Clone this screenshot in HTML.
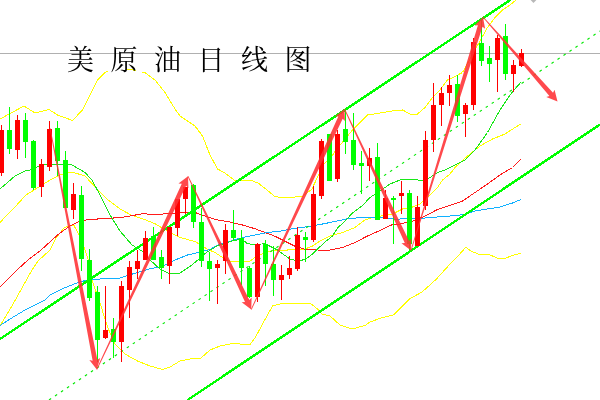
<!DOCTYPE html>
<html lang="zh-CN"><head><meta charset="utf-8"><title>美原油日线图</title>
<style>
html,body{margin:0;padding:0;background:#fff;}
body{width:600px;height:400px;overflow:hidden;position:relative;}
svg{position:absolute;left:0;top:0;display:block;}
.title{position:absolute;left:67px;top:46.5px;margin:0;font-family:"Liberation Serif","Noto Serif CJK SC",serif;font-weight:400;font-size:27px;line-height:1;letter-spacing:16.5px;color:#000;white-space:nowrap;transform:scaleY(1.04);transform-origin:0 0;}
.ln{shape-rendering:crispEdges;fill:none;stroke-width:1;stroke-linejoin:round;}
</style></head><body>
<svg width="600" height="400" viewBox="0 0 600 400">
<rect width="600" height="400" fill="#fff"/>
<rect x="0" y="53" width="600" height="1" fill="#b0b0b0" shape-rendering="crispEdges"/>
<polygon points="530.6,0 536.4,0 533.5,3.1" fill="#b8b8b8"/>
<polyline class="ln" stroke="#ffff00" points="0,119 24,106 35,113 49,109.5 57.5,115 72.5,120.5 82.5,110 90,95 97.5,80 105,72.5 107.5,71.3"/>
<polyline class="ln" stroke="#ffff00" points="127.5,69.2 130,69.5 136,70.5"/>
<polyline class="ln" stroke="#ffff00" points="142.5,72 145,72.5 155,80 165,92.5 175,109 180,116 187.5,121 195,126 202.5,136 210,155 217.5,169 225,173 234,180 250,180 258,183 266,189 274,196 280,197.4 292,197.4 303,196 312,189 318,176 324,164 332,156 336,150 352.5,130 360,122.5 367.5,115 380,113 392.5,111 402.5,110 410,114 417.5,114 425,107.5 432.5,97.5 440,90 447.5,80 450,79 462.5,72.5 475,50 487.5,27.5 495,17.5 502.5,10 510,5 516,0"/>
<polyline class="ln" stroke="#ffff00" points="0,222.4 14,208 26,195 34,190 50,180 60,175 72,172 85,176 98,190 108,200 115,205 120,209 132,215.5 142.5,218.75 155,223.75 167.5,231 180,237.5 195,241.5 207,249 215,252.5 222.5,257.5 230,261.25 240,262 250,261.25 255,257.5 262.5,253.75 275,250 287.5,250 305,249 312.5,246 320,241 330,236 342.5,232.5 355,227.5 365,220 372.5,217.5 392.5,214 402.5,209 410,208 420,204 427.5,197.5 437.5,187.5 442.5,180 450,174 455,167.5 467.5,156 480,146 492.5,139 505,134 515,127.5 521,124"/>
<polyline class="ln" stroke="#ffff00" points="0,326 12.5,305 25,282.5 32,270 38,261 50,250 56,238 64,228 71,225 74,225.6 78,233 84,247 88,259 92,280 100,303 107.5,327 115,344 125,354 137.5,361 150,366 162.5,369.5 170,367 180,361 190,359 201,358 210,350 220,346 235,343 242.5,344.5 250,344.5 255,338 262,325 272.5,306 280,304 295,303 310,303 317.5,309 322,314 330,316 340,325 352,329 365,325.5 370,322 381,318 393.4,315 403,305.6 410,298.7 422,292 436,279.5 449.7,264.4 458,256 465.7,247.3 471.7,251.4 480,254.7 488.2,254.2 497.8,258.3 506,258 513,255.3 521,253.4"/>
<polyline class="ln" stroke="#ff1a1a" points="0,287 17,270 28,260 40,251 52,240 60,233 70,226 78,222 88,219.6 104,218.6 120,217.6 130,216 142.5,213.75 155,214.5 167.5,213.75 180,212.5 195,212.5 205,216 217.5,220 230,222 242.5,225 255,228.75 265,232.5 275,236.25 285,241.25 295,246.25 305,249.25 317.5,250 330,250 342.5,247.5 355,242.5 367.5,236 380,230.5 392.5,224.5 400,224 415,220.5 425,216 437.5,209.5 450,205.5 462.5,201 475,192.5 487.5,184 500,175 512.5,167.5 521,159"/>
<polyline class="ln" stroke="#10b0ff" stroke-width="1.3" points="0,325.5 12.5,317.5 25,310 37.5,303.75 45,300 50,295 62.5,288.75 75,283.75 85,280.5 100,279 117.5,278.75 125,276.25 137.5,272.5 150,268.75 162.5,266.25 175,260 187.5,255 200,252 210,249.5 220,243.75 230,241.25 242.5,237.5 255,235 267.5,232.5 280,231.25 292.5,228.75 305,227 317.5,225 330,222.5 347.5,218.75 365,217.25 380,217.5 392.5,219 400,219 425,218 450,216 465,214.5 475,211 487.5,209 500,207 512.5,203 521,199.5"/>
<polyline class="ln" stroke="#18e818" points="0,189 15,176 25,171 32.5,169.5 40,165.5 50,164 72,165 85,172.5 92,180 100,195 110,215 120,231 132,245 142,251 150,260 160,269 170,274 180,273 192,265 207,252 217,246 232,241 242,239 247.5,243.75 255,244.5 265,243.75 270,246.25 277.5,250 282.5,253.75 290,259 297.5,261 305,259.5 312.5,254 317.5,249 325,242 332.5,236 337.5,228 345,221 352.5,213 362.5,205.5 370,197.5 380,191 390,184 400,180 412.5,179.5 422.5,180.5 430,177.5 437.5,172.5 445,170 465,160 475,150 487.5,132.5 500,110 510,95 521,82"/>
<line x1="0" y1="339" x2="510.25" y2="0" stroke="#00ff00" stroke-width="2.4" shape-rendering="crispEdges"/>
<line x1="187.5" y1="400" x2="600" y2="124.5" stroke="#00ff00" stroke-width="2.4" shape-rendering="crispEdges"/>
<line x1="49" y1="400" x2="600" y2="31" stroke="#00e800" stroke-width="1.1" stroke-dasharray="2.6 4.6"/>
<g shape-rendering="crispEdges">
<rect x="1" y="125" width="1" height="51" fill="#ff0000"/><rect x="-1" y="130" width="5" height="43" fill="#ff0000"/>
<rect x="9" y="107" width="1" height="47" fill="#00ff00"/><rect x="7" y="130" width="5" height="19" fill="#00ff00"/>
<rect x="17" y="115" width="1" height="44" fill="#ff0000"/><rect x="15" y="120" width="5" height="30" fill="#ff0000"/>
<rect x="25" y="113" width="1" height="45" fill="#00ff00"/><rect x="23" y="120" width="5" height="22" fill="#00ff00"/>
<rect x="33" y="140" width="1" height="50" fill="#00ff00"/><rect x="31" y="141" width="5" height="47" fill="#00ff00"/>
<rect x="41" y="159" width="1" height="38" fill="#ff0000"/><rect x="39" y="164" width="5" height="23" fill="#ff0000"/>
<rect x="49" y="121" width="1" height="50" fill="#ff0000"/><rect x="47" y="129" width="5" height="38" fill="#ff0000"/>
<rect x="57" y="121" width="1" height="55" fill="#00ff00"/><rect x="55" y="128" width="5" height="33" fill="#00ff00"/>
<rect x="65" y="151" width="1" height="57" fill="#00ff00"/><rect x="63" y="160" width="5" height="48" fill="#00ff00"/>
<rect x="73" y="183" width="1" height="36" fill="#ff0000"/><rect x="71" y="194" width="5" height="16" fill="#ff0000"/>
<rect x="81" y="186" width="1" height="85" fill="#00ff00"/><rect x="79" y="195" width="5" height="64" fill="#00ff00"/>
<rect x="89" y="249" width="1" height="52" fill="#00ff00"/><rect x="87" y="260" width="5" height="38" fill="#00ff00"/>
<rect x="97" y="286" width="1" height="76" fill="#00ff00"/><rect x="95" y="292" width="5" height="48" fill="#00ff00"/>
<rect x="105" y="286" width="1" height="53" fill="#ff0000"/><rect x="103" y="330" width="5" height="8" fill="#ff0000"/>
<rect x="113" y="318" width="1" height="40" fill="#00ff00"/><rect x="111" y="329" width="5" height="13" fill="#00ff00"/>
<rect x="121" y="281" width="1" height="81" fill="#ff0000"/><rect x="119" y="286" width="5" height="56" fill="#ff0000"/>
<rect x="129" y="261" width="1" height="57" fill="#ff0000"/><rect x="127" y="267" width="5" height="23" fill="#ff0000"/>
<rect x="137" y="250" width="1" height="29" fill="#ff0000"/><rect x="135" y="261" width="5" height="8" fill="#ff0000"/>
<rect x="145" y="231" width="1" height="29" fill="#ff0000"/><rect x="143" y="238" width="5" height="22" fill="#ff0000"/>
<rect x="153" y="227" width="1" height="33" fill="#00ff00"/><rect x="151" y="236" width="5" height="24" fill="#00ff00"/>
<rect x="161" y="250" width="1" height="29" fill="#00ff00"/><rect x="159" y="257" width="5" height="11" fill="#00ff00"/>
<rect x="169" y="227" width="1" height="57" fill="#ff0000"/><rect x="167" y="227" width="5" height="39" fill="#ff0000"/>
<rect x="177" y="199" width="1" height="37" fill="#ff0000"/><rect x="175" y="199" width="5" height="29" fill="#ff0000"/>
<rect x="185" y="187" width="1" height="27" fill="#ff0000"/><rect x="183" y="187" width="5" height="12" fill="#ff0000"/>
<rect x="193" y="184" width="1" height="44" fill="#00ff00"/><rect x="191" y="185" width="5" height="37" fill="#00ff00"/>
<rect x="201" y="208" width="1" height="59" fill="#00ff00"/><rect x="199" y="222" width="5" height="39" fill="#00ff00"/>
<rect x="209" y="252" width="1" height="49" fill="#00ff00"/><rect x="207" y="261" width="5" height="8" fill="#00ff00"/>
<rect x="217" y="260" width="1" height="44" fill="#ff0000"/><rect x="215" y="264" width="5" height="4" fill="#ff0000"/>
<rect x="225" y="224" width="1" height="50" fill="#ff0000"/><rect x="223" y="230" width="5" height="31" fill="#ff0000"/>
<rect x="233" y="210" width="1" height="31" fill="#00ff00"/><rect x="231" y="230" width="5" height="8" fill="#00ff00"/>
<rect x="241" y="230" width="1" height="55" fill="#00ff00"/><rect x="239" y="238" width="5" height="30" fill="#00ff00"/>
<rect x="249" y="266" width="1" height="32" fill="#00ff00"/><rect x="247" y="268" width="5" height="29" fill="#00ff00"/>
<rect x="257" y="243" width="1" height="59" fill="#ff0000"/><rect x="255" y="244" width="5" height="53" fill="#ff0000"/>
<rect x="265" y="240" width="1" height="46" fill="#00ff00"/><rect x="263" y="244" width="5" height="20" fill="#00ff00"/>
<rect x="273" y="246" width="1" height="50" fill="#00ff00"/><rect x="271" y="264" width="5" height="16" fill="#00ff00"/>
<rect x="281" y="265" width="1" height="35" fill="#ff0000"/><rect x="279" y="275" width="5" height="5" fill="#ff0000"/>
<rect x="289" y="256" width="1" height="23" fill="#ff0000"/><rect x="287" y="268" width="5" height="7" fill="#ff0000"/>
<rect x="297" y="227" width="1" height="44" fill="#ff0000"/><rect x="295" y="235" width="5" height="34" fill="#ff0000"/>
<rect x="305" y="232" width="1" height="30" fill="#00ff00"/><rect x="303" y="237" width="5" height="3" fill="#00ff00"/>
<rect x="313" y="186" width="1" height="56" fill="#ff0000"/><rect x="311" y="194" width="5" height="46" fill="#ff0000"/>
<rect x="321" y="139" width="1" height="60" fill="#ff0000"/><rect x="319" y="141" width="5" height="55" fill="#ff0000"/>
<rect x="329" y="134" width="1" height="47" fill="#00ff00"/><rect x="327" y="134" width="5" height="47" fill="#00ff00"/>
<rect x="337" y="130" width="1" height="52" fill="#ff0000"/><rect x="335" y="134" width="5" height="45" fill="#ff0000"/>
<rect x="345" y="109" width="1" height="45" fill="#00ff00"/><rect x="343" y="129" width="5" height="13" fill="#00ff00"/>
<rect x="353" y="113" width="1" height="57" fill="#00ff00"/><rect x="351" y="140" width="5" height="25" fill="#00ff00"/>
<rect x="361" y="151" width="1" height="43" fill="#00ff00"/><rect x="359" y="163" width="5" height="3" fill="#00ff00"/>
<rect x="369" y="148" width="1" height="33" fill="#ff0000"/><rect x="367" y="158" width="5" height="8" fill="#ff0000"/>
<rect x="377" y="143" width="1" height="77" fill="#00ff00"/><rect x="375" y="157" width="5" height="63" fill="#00ff00"/>
<rect x="385" y="190" width="1" height="29" fill="#ff0000"/><rect x="383" y="198" width="5" height="21" fill="#ff0000"/>
<rect x="393" y="196" width="1" height="48" fill="#00ff00"/><rect x="391" y="198" width="5" height="2" fill="#00ff00"/>
<rect x="401" y="181" width="1" height="33" fill="#ff0000"/><rect x="399" y="193" width="5" height="3" fill="#ff0000"/>
<rect x="409" y="190" width="1" height="60" fill="#00ff00"/><rect x="407" y="193" width="5" height="51" fill="#00ff00"/>
<rect x="417" y="196" width="1" height="50" fill="#ff0000"/><rect x="415" y="207" width="5" height="39" fill="#ff0000"/>
<rect x="425" y="131" width="1" height="79" fill="#ff0000"/><rect x="423" y="140" width="5" height="66" fill="#ff0000"/>
<rect x="433" y="83" width="1" height="69" fill="#ff0000"/><rect x="431" y="105" width="5" height="35" fill="#ff0000"/>
<rect x="441" y="87" width="1" height="39" fill="#ff0000"/><rect x="439" y="93" width="5" height="12" fill="#ff0000"/>
<rect x="449" y="75" width="1" height="31" fill="#ff0000"/><rect x="447" y="85" width="5" height="8" fill="#ff0000"/>
<rect x="457" y="75" width="1" height="47" fill="#00ff00"/><rect x="455" y="84" width="5" height="32" fill="#00ff00"/>
<rect x="465" y="103" width="1" height="34" fill="#ff0000"/><rect x="463" y="105" width="5" height="9" fill="#ff0000"/>
<rect x="473" y="38" width="1" height="72" fill="#ff0000"/><rect x="471" y="42" width="5" height="63" fill="#ff0000"/>
<rect x="481" y="20" width="1" height="46" fill="#00ff00"/><rect x="479" y="43" width="5" height="18" fill="#00ff00"/>
<rect x="489" y="46" width="1" height="36" fill="#00ff00"/><rect x="487" y="58" width="5" height="6" fill="#00ff00"/>
<rect x="497" y="35" width="1" height="57" fill="#ff0000"/><rect x="495" y="38" width="5" height="22" fill="#ff0000"/>
<rect x="505" y="24" width="1" height="56" fill="#00ff00"/><rect x="503" y="36" width="5" height="38" fill="#00ff00"/>
<rect x="513" y="60" width="1" height="32" fill="#ff0000"/><rect x="511" y="65" width="5" height="9" fill="#ff0000"/>
<rect x="521" y="49" width="1" height="18" fill="#ff0000"/><rect x="519" y="53" width="5" height="13" fill="#ff0000"/>
</g>
<g fill="#ff3034" opacity="0.88">
<polygon points="49.61,128.08 92.64,360.63 89.36,360.04 96.80,369.50 100.16,357.95 97.35,359.72 50.39,127.92"/>
<polygon points="97.16,369.67 186.12,185.87 188.41,188.27 188.00,176.25 178.46,183.58 181.78,183.82 96.44,369.33"/>
<polygon points="187.64,176.42 245.01,301.95 241.69,302.19 251.25,309.50 251.63,297.48 249.34,299.89 188.36,176.08"/>
<polygon points="251.61,309.67 342.67,118.63 344.97,121.02 344.50,109.00 335.00,116.38 338.32,116.60 250.89,309.33"/>
<polygon points="344.14,109.17 404.79,242.92 401.47,243.16 411.00,250.50 411.43,238.48 409.13,240.88 344.86,108.83"/>
<polygon points="411.38,250.62 482.49,26.79 485.10,28.85 483.00,17.00 474.59,25.60 477.91,25.37 410.62,250.38"/>
<polygon points="482.70,17.26 549.42,95.96 546.30,97.11 557.50,101.50 554.55,89.84 553.02,92.79 483.30,16.74"/>
</g>
</svg>
<h1 class="title">美原油日线图</h1>
</body></html>
